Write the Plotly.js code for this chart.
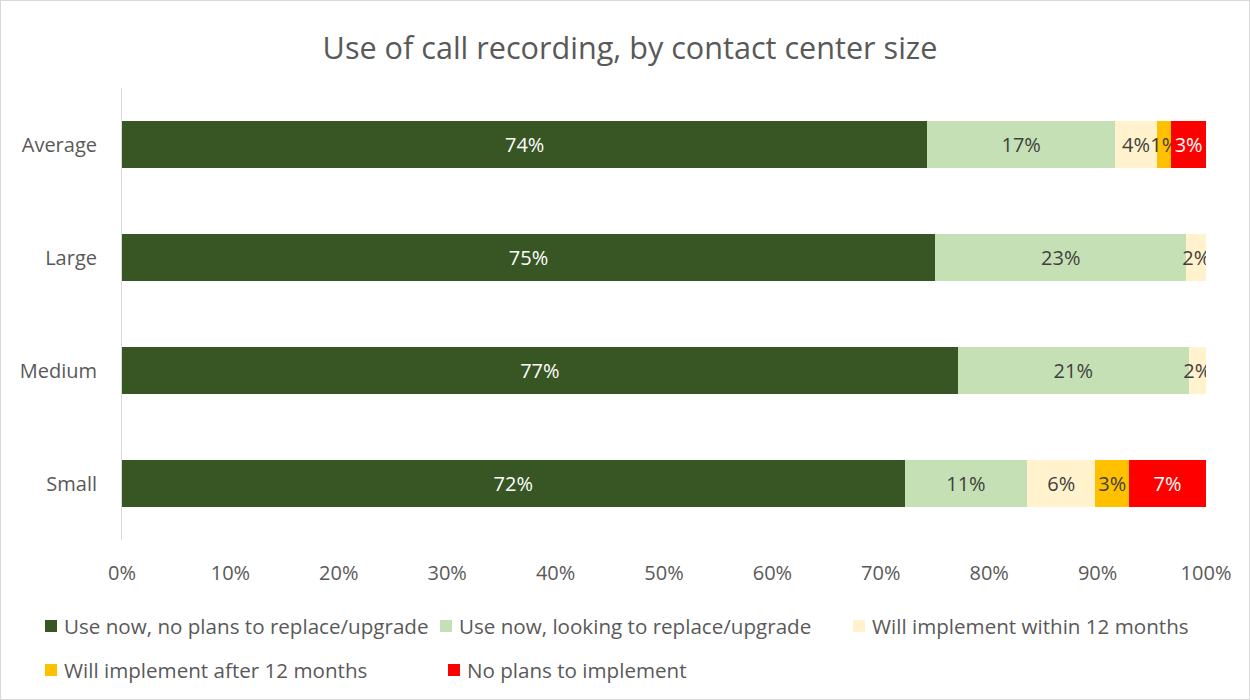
<!DOCTYPE html>
<html>
<head>
<meta charset="utf-8">
<script src="https://cdn.plot.ly/plotly-3.0.1.min.js"></script>
<style>
html,body{margin:0;padding:0;background:#fff;}
#chart{width:1248px;height:698px;border:1px solid #d9d9d9;}
</style>
</head>
<body>
<div id="chart"></div>
<script>
const categories = ["Small", "Medium", "Large", "Average"];
const seriesNames = [
  "Use now, no plans to replace/upgrade",
  "Use now, looking to replace/upgrade",
  "Will implement within 12 months",
  "Will implement after 12 months",
  "No plans to implement"
];
const useNoPlans   = [0.722, 0.771, 0.750, 0.743];
const useLooking   = [0.113, 0.213, 0.232, 0.173];
const within12     = [0.063, 0.016, 0.018, 0.039];
const after12      = [0.031, 0.000, 0.000, 0.013];
const noPlans      = [0.071, 0.000, 0.000, 0.032];
const tickVals = [0, 0.1, 0.2, 0.3, 0.4, 0.5, 0.6, 0.7, 0.8, 0.9, 1.0];

const seriesValues = [useNoPlans, useLooking, within12, after12, noPlans];
const colors = ["#375623", "#C5E0B4", "#FFF2CC", "#FFC000", "#FF0000"];
const textColors = ["#ffffff", "#404040", "#404040", "#404040", "#ffffff"];

const FONT = "Open Sans, Liberation Sans, sans-serif";

const traces = seriesValues.map((vals, i) => ({
  type: "bar",
  orientation: "h",
  name: seriesNames[i],
  y: categories,
  x: vals,
  marker: {color: colors[i]},
  texttemplate: "%{x:.0%}",
  textposition: "inside",
  insidetextanchor: "middle",
  textangle: 0,
  textfont: {family: FONT, size: 20, color: textColors[i]},
  hoverinfo: "none",
  width: 0.41,
  showlegend: false
}));

// plot area in pixels: x 122..1206, y 88..540
const PL = 122, PR = 1206, PT = 88, PB = 540;
const px = v => (v - PL) / (PR - PL);
const py = v => (PB - v) / (PB - PT);

// legend item placement (pixel positions of the squares)
const legendPos = [[45, 626], [440, 626], [853, 626], [45, 670], [448, 670]];
const shapes = [];
const annotations = [];
seriesNames.forEach((name, i) => {
  const [sx, sy] = legendPos[i];
  shapes.push({
    type: "rect", xref: "paper", yref: "paper",
    x0: px(sx), x1: px(sx + 12), y0: py(sy + 6), y1: py(sy - 6),
    fillcolor: colors[i], line: {width: 0}
  });
  annotations.push({
    xref: "paper", yref: "paper", x: px(sx + 17), y: py(sy),
    xanchor: "left", yanchor: "middle", showarrow: false,
    text: name, font: {family: FONT, size: 20.6, color: "#595959"}
  });
});

const layout = {
  width: 1248,
  height: 698,
  barmode: "stack",
  paper_bgcolor: "#ffffff",
  plot_bgcolor: "#ffffff",
  font: {family: FONT, color: "#595959", size: 20},
  title: {
    text: "Use of call recording, by contact center size",
    x: 0.504, xanchor: "center", y: 0.932, yanchor: "middle",
    font: {size: 30.6, color: "#595959"}
  },
  margin: {l: 121, r: 43, t: 87, b: 159},
  uniformtext: {mode: "show", minsize: 20},
  showlegend: false,
  xaxis: {
    range: [0, 1],
    tickvals: tickVals,
    tickformat: ".0%",
    showgrid: false,
    zeroline: false,
    showline: false,
    ticks: "",
    ticklabelstandoff: 19,
    fixedrange: true,
    tickfont: {size: 20, color: "#595959"}
  },
  yaxis: {
    showline: true,
    linecolor: "#d9d9d9",
    linewidth: 1,
    showgrid: false,
    zeroline: false,
    ticks: "",
    ticklabelstandoff: 20,
    range: [-0.5, 3.5],
    tickfont: {size: 20, color: "#595959"}
  },
  shapes: shapes,
  annotations: annotations
};

Plotly.newPlot("chart", traces, layout, {displayModeBar: false, staticPlot: true});
</script>
</body>
</html>
